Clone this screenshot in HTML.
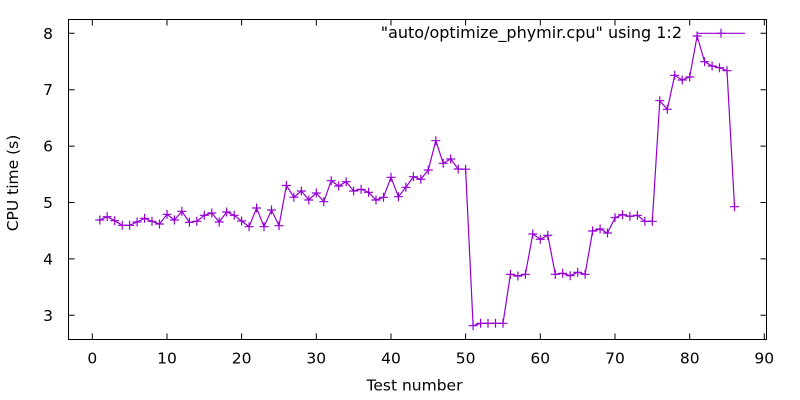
<!DOCTYPE html>
<html><head><meta charset="utf-8"><style>
html,body{margin:0;padding:0;background:#fff;}
svg{display:block;}
text{font-family:"DejaVu Sans","Liberation Sans",sans-serif;font-size:15.5px;fill:#000;}
</style></head><body>
<svg width="800" height="400" viewBox="0 0 800 400" xmlns="http://www.w3.org/2000/svg">
<defs><path id="p" d="M-4.5 0h9M0-4.5v9" stroke="#9400d3" stroke-width="1.2" fill="none"/></defs>
<rect x="0" y="0" width="800" height="400" fill="#fff"/>
<g stroke="#000" stroke-width="1" fill="none">
<rect x="68.5" y="19.5" width="698" height="320"/>
<path d="M92.3 339.5v-6M167 339.5v-6M241.6 339.5v-6M316.3 339.5v-6M391 339.5v-6M465.6 339.5v-6M540.3 339.5v-6M615 339.5v-6M689.7 339.5v-6M764.3 339.5v-6
M92.3 19.5v6M167 19.5v6M241.6 19.5v6M316.3 19.5v6M391 19.5v6M465.6 19.5v6M540.3 19.5v6M615 19.5v6M689.7 19.5v6M764.3 19.5v6
M68.5 315.3h6M68.5 258.9h6M68.5 202.5h6M68.5 146.1h6M68.5 89.7h6M68.5 33.3h6
M766.5 315.3h-6M766.5 258.9h-6M766.5 202.5h-6M766.5 146.1h-6M766.5 89.7h-6M766.5 33.3h-6"/>
</g>
<g text-anchor="end">
<text x="53" y="320.8">3</text>
<text x="53" y="264.4">4</text>
<text x="53" y="208">5</text>
<text x="53" y="151.6">6</text>
<text x="53" y="95.2">7</text>
<text x="53" y="38.8">8</text>
</g>
<g text-anchor="middle">
<text x="92.3" y="363.5">0</text>
<text x="167" y="363.5">10</text>
<text x="241.6" y="363.5">20</text>
<text x="316.3" y="363.5">30</text>
<text x="391" y="363.5">40</text>
<text x="465.6" y="363.5">50</text>
<text x="540.3" y="363.5">60</text>
<text x="615" y="363.5">70</text>
<text x="689.7" y="363.5">80</text>
<text x="764.3" y="363.5">90</text>
<text x="414.5" y="390.5">Test number</text>
<text x="0" y="0" transform="translate(18,183) rotate(-90)">CPU time (s)</text>
</g>
<text x="682" y="38" text-anchor="end" style="font-size:16px">"auto/optimize_phymir.cpu" using 1:2</text>
<path d="M697 33.3H745" stroke="#9400d3" stroke-width="1.2"/>
<use href="#p" x="721" y="33.3"/>
<polyline fill="none" stroke="#9400d3" stroke-width="1.2" points="99.8,220 107.2,216.7 114.7,220.7 122.2,225.3 129.6,225.3 137.1,222 144.6,218.3 152,221.3 159.5,224 167,214.3 174.4,220 181.9,211.3 189.4,222.3 196.8,221.3 204.3,215.3 211.8,213 219.2,222 226.7,212 234.2,215.3 241.6,221 249.1,226.7 256.6,208 264,226.7 271.5,210 279,225.7 286.4,185.5 293.9,197.2 301.4,191 308.8,200 316.3,193 323.8,201.7 331.2,180.7 338.7,186 346.2,181.7 353.6,191 361.1,189.3 368.6,192.3 376,200 383.5,197.3 391,177.3 398.4,196.7 405.9,187.3 413.4,176.7 420.8,179.3 428.3,170 435.8,140.7 443.2,163.3 450.7,159 458.2,169 465.6,169.2 473.1,325.7 480.6,323.3 488,323.3 495.5,323.3 503,323.3 510.4,274.3 517.9,276 525.4,274.3 532.8,234 540.3,239.3 547.8,235.3 555.3,274.3 562.7,273.3 570.2,275.7 577.7,272.3 585.1,274.3 592.6,231 600.1,229 607.5,233 615,217.7 622.5,214.7 629.9,216.3 637.4,215.3 644.9,221.3 652.3,221.3 659.8,100.7 667.3,109.3 674.7,75.3 682.2,80 689.7,77 697.1,36 704.6,61.7 712.1,66 719.5,67.7 727,70.7 734.5,206.7"/>
<g>
<use href="#p" x="99.8" y="220"/><use href="#p" x="107.2" y="216.7"/><use href="#p" x="114.7" y="220.7"/><use href="#p" x="122.2" y="225.3"/><use href="#p" x="129.6" y="225.3"/><use href="#p" x="137.1" y="222"/><use href="#p" x="144.6" y="218.3"/><use href="#p" x="152" y="221.3"/><use href="#p" x="159.5" y="224"/><use href="#p" x="167" y="214.3"/>
<use href="#p" x="174.4" y="220"/><use href="#p" x="181.9" y="211.3"/><use href="#p" x="189.4" y="222.3"/><use href="#p" x="196.8" y="221.3"/><use href="#p" x="204.3" y="215.3"/><use href="#p" x="211.8" y="213"/><use href="#p" x="219.2" y="222"/><use href="#p" x="226.7" y="212"/><use href="#p" x="234.2" y="215.3"/><use href="#p" x="241.6" y="221"/>
<use href="#p" x="249.1" y="226.7"/><use href="#p" x="256.6" y="208"/><use href="#p" x="264" y="226.7"/><use href="#p" x="271.5" y="210"/><use href="#p" x="279" y="225.7"/><use href="#p" x="286.4" y="185.5"/><use href="#p" x="293.9" y="197.2"/><use href="#p" x="301.4" y="191"/><use href="#p" x="308.8" y="200"/><use href="#p" x="316.3" y="193"/>
<use href="#p" x="323.8" y="201.7"/><use href="#p" x="331.2" y="180.7"/><use href="#p" x="338.7" y="186"/><use href="#p" x="346.2" y="181.7"/><use href="#p" x="353.6" y="191"/><use href="#p" x="361.1" y="189.3"/><use href="#p" x="368.6" y="192.3"/><use href="#p" x="376" y="200"/><use href="#p" x="383.5" y="197.3"/><use href="#p" x="391" y="177.3"/>
<use href="#p" x="398.4" y="196.7"/><use href="#p" x="405.9" y="187.3"/><use href="#p" x="413.4" y="176.7"/><use href="#p" x="420.8" y="179.3"/><use href="#p" x="428.3" y="170"/><use href="#p" x="435.8" y="140.7"/><use href="#p" x="443.2" y="163.3"/><use href="#p" x="450.7" y="159"/><use href="#p" x="458.2" y="169"/><use href="#p" x="465.6" y="169.2"/>
<use href="#p" x="473.1" y="325.7"/><use href="#p" x="480.6" y="323.3"/><use href="#p" x="488" y="323.3"/><use href="#p" x="495.5" y="323.3"/><use href="#p" x="503" y="323.3"/><use href="#p" x="510.4" y="274.3"/><use href="#p" x="517.9" y="276"/><use href="#p" x="525.4" y="274.3"/><use href="#p" x="532.8" y="234"/><use href="#p" x="540.3" y="239.3"/>
<use href="#p" x="547.8" y="235.3"/><use href="#p" x="555.3" y="274.3"/><use href="#p" x="562.7" y="273.3"/><use href="#p" x="570.2" y="275.7"/><use href="#p" x="577.7" y="272.3"/><use href="#p" x="585.1" y="274.3"/><use href="#p" x="592.6" y="231"/><use href="#p" x="600.1" y="229"/><use href="#p" x="607.5" y="233"/><use href="#p" x="615" y="217.7"/>
<use href="#p" x="622.5" y="214.7"/><use href="#p" x="629.9" y="216.3"/><use href="#p" x="637.4" y="215.3"/><use href="#p" x="644.9" y="221.3"/><use href="#p" x="652.3" y="221.3"/><use href="#p" x="659.8" y="100.7"/><use href="#p" x="667.3" y="109.3"/><use href="#p" x="674.7" y="75.3"/><use href="#p" x="682.2" y="80"/><use href="#p" x="689.7" y="77"/>
<use href="#p" x="697.1" y="36"/><use href="#p" x="704.6" y="61.7"/><use href="#p" x="712.1" y="66"/><use href="#p" x="719.5" y="67.7"/><use href="#p" x="727" y="70.7"/><use href="#p" x="734.5" y="206.7"/>
</g>
</svg>
</body></html>
